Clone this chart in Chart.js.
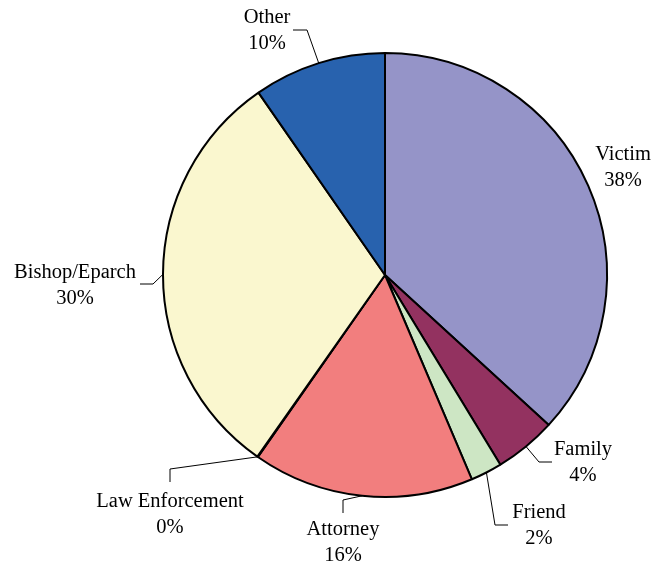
<!DOCTYPE html>
<html>
<head>
<meta charset="utf-8">
<script src="https://cdn.jsdelivr.net/npm/chart.js@4"></script>
<style>
  html, body { margin: 0; padding: 0; background: #fff; }
  #wrap { width: 659px; height: 567px; position: relative; }
</style>
</head>
<body>
<div id="wrap"><canvas id="c" width="659" height="567"></canvas></div>
<script>
// ---- data ----
const categories = ['Victim', 'Family', 'Friend', 'Attorney', 'Law Enforcement', 'Bishop/Eparch', 'Other'];
const sliceValues = [36.8, 4.5, 2.3, 16.1, 0.05, 30.6, 9.65];
const percentLabels = [38, 4, 2, 16, 0, 30, 10];
const sliceColors = ['#9594C8', '#933260', '#CDE6C4', '#F27E7E', '#FFFFFF', '#FAF7CF', '#2862AE'];

// ---- label layout (first text line centre offsets from pie centre, and leader elbows) ----
const labelLayout = [
  { dx: 238, dy: -120, leader: null },
  { dx: 198, dy: 175, leader: [[154, 187], [167, 187]] },
  { dx: 154, dy: 238, leader: [[110, 250], [123, 250]] },
  { dx: -42, dy: 255, leader: [[-42, 225], [-42, 238]] },
  { dx: -215, dy: 227, leader: [[-215, 194], [-215, 207]] },
  { dx: -310, dy: -2, leader: [[-232, 9], [-245, 9]] },
  { dx: -118, dy: -257, leader: [[-78, -245], [-92, -245]] }
];

const labelPlugin = {
  id: 'pieLabels',
  afterDraw(chart) {
    const ctx = chart.ctx;
    const meta = chart.getDatasetMeta(0);
    ctx.save();
    ctx.font = '20.5px "Liberation Serif", "Times New Roman", serif';
    ctx.fillStyle = '#000';
    ctx.textAlign = 'center';
    ctx.textBaseline = 'middle';
    meta.data.forEach((arc, i) => {
      const p = arc.getProps(['x', 'y', 'startAngle', 'endAngle', 'outerRadius'], true);
      const mid = (p.startAngle + p.endAngle) / 2;
      const sx = p.x + Math.cos(mid) * p.outerRadius;
      const sy = p.y + Math.sin(mid) * p.outerRadius;
      const L = labelLayout[i];
      if (L.leader) {
        ctx.beginPath();
        ctx.strokeStyle = '#000';
        ctx.lineWidth = 1;
        ctx.moveTo(sx, sy);
        L.leader.forEach(pt => ctx.lineTo(p.x + pt[0], p.y + pt[1]));
        ctx.stroke();
      }
      const tx = p.x + L.dx, ty = p.y + L.dy;
      ctx.fillText(categories[i], tx, ty);
      ctx.fillText(percentLabels[i] + '%', tx, ty + 26);
    });
    ctx.restore();
  }
};

new Chart(document.getElementById('c'), {
  type: 'pie',
  data: {
    labels: categories,
    datasets: [{
      data: sliceValues,
      backgroundColor: sliceColors,
      borderColor: '#000',
      borderWidth: 2
    }]
  },
  options: {
    responsive: false,
    animation: false,
    layout: { padding: { left: 162, right: 51, top: 52, bottom: 69 } },
    plugins: { legend: { display: false }, tooltip: { enabled: false } }
  },
  plugins: [labelPlugin]
});
</script>
</body>
</html>
